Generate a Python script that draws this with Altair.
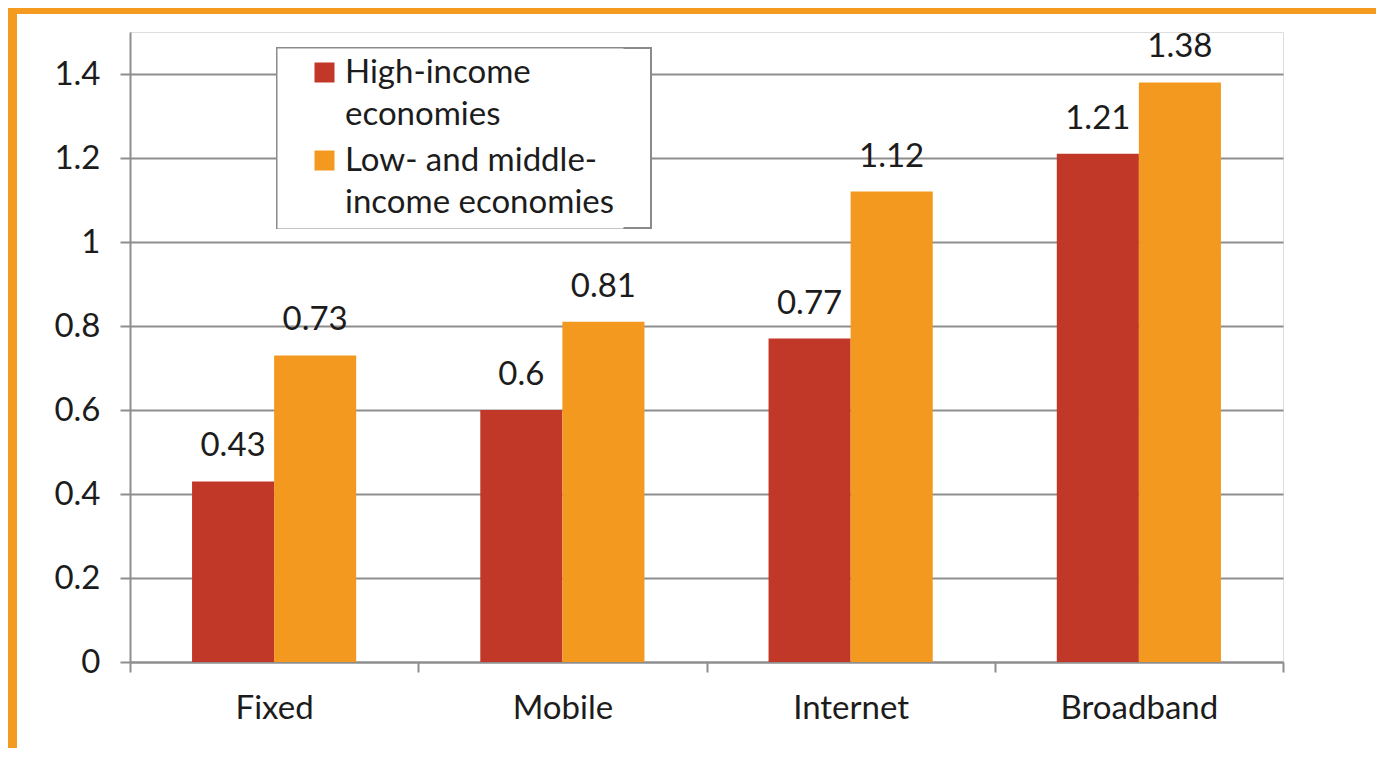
import altair as alt
import pandas as pd

categories = ["Fixed", "Mobile", "Internet", "Broadband"]
series_names = ["High-income economies", "Low- and middle-income economies"]
legend_lines = {
    "High-income economies": ["High-income", "economies"],
    "Low- and middle-income economies": ["Low- and middle-", "income economies"],
}
high_income = [0.43, 0.60, 0.77, 1.21]
low_middle_income = [0.73, 0.81, 1.12, 1.38]
y_ticks = [0, 0.2, 0.4, 0.6, 0.8, 1.0, 1.2, 1.4]
colors = ["#C13828", "#F4991F"]

rows = []
for i, c in enumerate(categories):
    rows.append({"category": c, "series": series_names[0], "value": high_income[i]})
    rows.append({"category": c, "series": series_names[1], "value": low_middle_income[i]})
df = pd.DataFrame(rows)

FONT = "Lato"
TEXT = "#1c1c1c"
GRID = "#8e8e8e"
FS = 33

x_enc = alt.X(
    "category:N", sort=categories,
    scale=alt.Scale(paddingInner=0, paddingOuter=0),
    axis=alt.Axis(title=None, labelAngle=0, tickBand="extent", tickSize=10,
                  labelPadding=20, domainColor=GRID, tickColor=GRID,
                  domainWidth=2, tickWidth=2, labelFontSize=FS,
                  labelColor=TEXT, labelFont=FONT, grid=False),
)
xoff_enc = alt.XOffset(
    "series:N", sort=series_names,
    scale=alt.Scale(domain=series_names, paddingInner=0, paddingOuter=0.756),
)
y_enc = alt.Y(
    "value:Q",
    scale=alt.Scale(domain=[0, 1.5], nice=False, zero=True),
    axis=alt.Axis(title=None, values=y_ticks, format="~g", tickSize=10,
                  labelPadding=20, grid=True, gridColor=GRID, gridWidth=2,
                  domainColor=GRID, domainWidth=2, tickColor=GRID, tickWidth=2,
                  labelFontSize=FS, labelColor=TEXT, labelFont=FONT),
)

def js_list(items):
    return "[" + ", ".join("'" + s + "'" for s in items) + "]"

label_expr = (
    f"datum.label == '{series_names[0]}' ? {js_list(legend_lines[series_names[0]])} : "
    f"{js_list(legend_lines[series_names[1]])}"
)

legend = alt.Legend(
    title=None, orient="none", legendX=147, legendY=16, direction="vertical",
    symbolType="square", symbolSize=400, symbolStrokeWidth=0, symbolOffset=23,
    labelFontSize=FS, labelFont=FONT, labelColor=TEXT, labelLimit=0,
    padding=8, strokeColor="transparent", fillColor="white", rowPadding=12,
    labelExpr=label_expr,
)

bars = alt.Chart(df).mark_bar().encode(
    x=x_enc, xOffset=xoff_enc, y=y_enc,
    color=alt.Color("series:N", sort=series_names,
                    scale=alt.Scale(domain=series_names, range=colors),
                    legend=legend),
)

labels = alt.Chart(df).mark_text(
    font=FONT, fontSize=FS, color=TEXT, baseline="alphabetic", dy=-25
).encode(
    x=x_enc, xOffset=xoff_enc, y=y_enc,
    text=alt.Text("value:Q", format="~g"),
)

deco_df = pd.DataFrame({"k": [0]})
ORANGE = "#F39A1F"
left_band = alt.Chart(deco_df).mark_rect(color=ORANGE).encode(
    x=alt.value(-122), x2=alt.value(-113), y=alt.value(-24), y2=alt.value(716)
)
top_band = alt.Chart(deco_df).mark_rect(color=ORANGE).encode(
    x=alt.value(-122), x2=alt.value(1246), y=alt.value(-24), y2=alt.value(-18)
)
legend_box = alt.Chart(deco_df).mark_rect(
    fill="white", stroke="#8a8a8a", strokeWidth=2
).encode(
    x=alt.value(147), x2=alt.value(521), y=alt.value(16), y2=alt.value(196)
)

chart = alt.layer(left_band, top_band, bars, labels, legend_box).properties(
    width=1153, height=630, padding=0, background="white"
).configure_view(stroke=None).configure(
    style={"guide-label": {"lineHeight": 42}}
)

chart.save("out.html", embed_options={"renderer": "svg", "actions": False})
